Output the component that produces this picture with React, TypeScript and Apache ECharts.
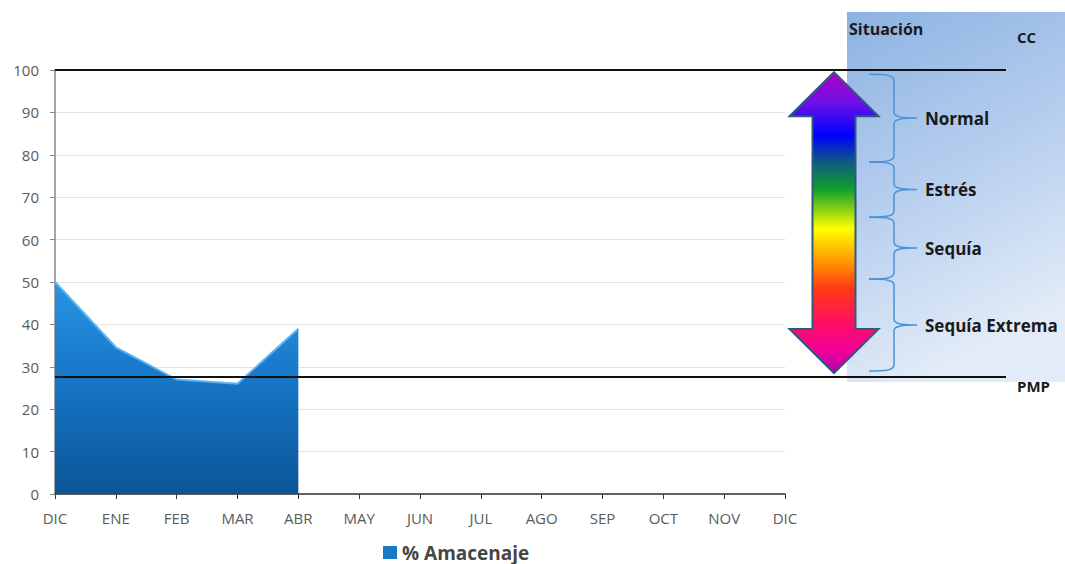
import React, { useEffect, useRef } from "react";
import * as echarts from "echarts";

// Monthly soil-water storage (% of field capacity)
const months = ["DIC", "ENE", "FEB", "MAR", "ABR", "MAY", "JUN", "JUL", "AGO", "SEP", "OCT", "NOV", "DIC"];
const storage = [50, 34.6, 27, 26, 39];
const seriesName = "% Amacenaje";

// Value axis
const yMin = 0;
const yMax = 100;
const yStep = 10;

// Reference levels
const ccLevel = 100; // capacidad de campo
const pmpLevel = 27.6; // punto de marchitez permanente

// Situation bands along the scale (upper/lower bounds in %)
const situationLabels = ["Normal", "Estrés", "Sequía", "Sequía Extrema"];
const situationBounds = [99, 78.3, 65.3, 50.7, 29];

const FONT = "'Open Sans', Lato, sans-serif";

function bracePath(y0: number, y1: number): string {
  const xl = 869;
  const xs = 894;
  const xt = 917;
  const ym = (y0 + y1) / 2;
  const r = 6;
  return (
    `M${xl} ${y0} C${xs - 8} ${y0} ${xs} ${y0 + 1} ${xs} ${y0 + r} ` +
    `L${xs} ${ym - r} C${xs} ${ym - 2} ${xs + 4} ${ym} ${xt} ${ym} ` +
    `C${xs + 4} ${ym} ${xs} ${ym + 2} ${xs} ${ym + r} ` +
    `L${xs} ${y1 - r} C${xs} ${y1 - 1} ${xs - 8} ${y1} ${xl} ${y1}`
  );
}

export default function App() {
  const ref = useRef<HTMLDivElement>(null);

  useEffect(() => {
    if (!ref.current) return;
    const chart = echarts.init(ref.current, undefined, { renderer: "svg" });

    chart.setOption({
      animation: false,
      backgroundColor: "#ffffff",
      grid: { left: 55, right: 280, top: 70, bottom: 70, containLabel: false },
      legend: {
        data: [seriesName],
        left: 378,
        top: 538,
        icon: "rect",
        itemWidth: 14,
        itemHeight: 13,
        itemGap: 6,
        textStyle: { fontSize: 19, fontWeight: "bold", color: "#454545", fontFamily: FONT },
      },
      xAxis: {
        type: "category",
        data: months,
        boundaryGap: false,
        axisLine: { lineStyle: { color: "#333333", width: 1.5 } },
        axisTick: { show: true, length: 5, lineStyle: { color: "#333333" } },
        axisLabel: { fontSize: 15, color: "#5a5a5a", margin: 16, fontFamily: FONT },
        splitLine: { show: false },
      },
      yAxis: {
        type: "value",
        min: yMin,
        max: yMax,
        interval: yStep,
        axisLine: { show: true, lineStyle: { color: "#868686", width: 1.5 } },
        axisTick: { show: true, length: 5, lineStyle: { color: "#868686" } },
        axisLabel: { fontSize: 15, color: "#5a5a5a", margin: 16, fontFamily: FONT },
        splitLine: { lineStyle: { color: "#e2e2e2", width: 1 } },
      },
      series: [
        {
          name: seriesName,
          type: "line",
          data: storage,
          symbol: "none",
          color: "#1a78c8",
          lineStyle: { color: "#5bb2f0", width: 2 },
          areaStyle: {
            opacity: 1,
            color: {
              type: "linear",
              x: 0,
              y: 0,
              x2: 0,
              y2: 1,
              colorStops: [
                { offset: 0, color: "#2a93e4" },
                { offset: 0.5, color: "#1574c4" },
                { offset: 1, color: "#0b5596" },
              ],
            },
          },
          z: 2,
        },
      ],
    });

    const px = (v: number) => chart.convertToPixel({ yAxisIndex: 0 }, v) as number;
    const xLeft = chart.convertToPixel({ xAxisIndex: 0 }, 0) as number;
    const yCC = px(ccLevel);
    const yPMP = px(pmpLevel);
    const yTop = px(situationBounds[0]) - 2;
    const yBot = px(situationBounds[situationBounds.length - 1]) + 2;

    // Double-headed colour arrow
    const ax = 834;
    const headHalf = 44.5;
    const shaftHalf = 21.5;
    const headLen = 44;
    const arrowPts = [
      [ax, yTop],
      [ax + headHalf, yTop + headLen],
      [ax + shaftHalf, yTop + headLen],
      [ax + shaftHalf, yBot - headLen],
      [ax + headHalf, yBot - headLen],
      [ax, yBot],
      [ax - headHalf, yBot - headLen],
      [ax - shaftHalf, yBot - headLen],
      [ax - shaftHalf, yTop + headLen],
      [ax - headHalf, yTop + headLen],
    ];

    const braces: any[] = [];
    const labels: any[] = [];
    for (let i = 0; i < situationLabels.length; i++) {
      const y0 = px(situationBounds[i]);
      const y1 = px(situationBounds[i + 1]);
      const name = `brace${i}`;
      echarts.graphic.registerShape(name, echarts.graphic.extendPath(bracePath(y0, y1), {}));
      braces.push({
        type: name,
        x: 0,
        y: 0,
        z: 20,
        style: { stroke: "#4a93d6", fill: "none", lineWidth: 1.5 },
      });
      labels.push({
        type: "text",
        x: 925,
        y: (y0 + y1) / 2,
        z: 21,
        style: {
          text: situationLabels[i],
          fill: "#1a1a1a",
          font: `bold 17px ${FONT}`,
          textAlign: "left",
          textVerticalAlign: "middle",
        },
      });
    }

    chart.setOption({
      graphic: [
        {
          type: "rect",
          z: 0,
          shape: { x: 847, y: 12, width: 218, height: 370 },
          style: {
            fill: {
              type: "linear",
              x: 0,
              y: 0,
              x2: 0.3,
              y2: 1,
              colorStops: [
                { offset: 0, color: "#8cb2e2" },
                { offset: 0.5, color: "#b4cdee" },
                { offset: 1, color: "#e2ebf7" },
              ],
            },
          },
        },
        {
          type: "line",
          z: 10,
          shape: { x1: xLeft, y1: yCC, x2: 1006, y2: yCC },
          style: { stroke: "#111111", lineWidth: 2 },
        },
        {
          type: "line",
          z: 10,
          shape: { x1: xLeft, y1: yPMP, x2: 1006, y2: yPMP },
          style: { stroke: "#111111", lineWidth: 2 },
        },
        {
          type: "polygon",
          z: 15,
          shape: { points: arrowPts },
          style: {
            stroke: "#2c5b7e",
            lineWidth: 2,
            fill: {
              type: "linear",
              x: 0,
              y: 0,
              x2: 0,
              y2: 1,
              colorStops: [
                { offset: 0, color: "#b000c0" },
                { offset: 0.1, color: "#7010e8" },
                { offset: 0.21, color: "#0000ff" },
                { offset: 0.3, color: "#0e5c80" },
                { offset: 0.39, color: "#10a02a" },
                { offset: 0.52, color: "#ffff00" },
                { offset: 0.62, color: "#ffa000" },
                { offset: 0.72, color: "#ff3a14" },
                { offset: 0.83, color: "#ff1060" },
                { offset: 0.93, color: "#f0009a" },
                { offset: 1, color: "#b000b0" },
              ],
            },
          },
        },
        ...braces,
        ...labels,
        {
          type: "text",
          x: 849,
          y: 29,
          z: 21,
          style: {
            text: "Situación",
            fill: "#1a1a1a",
            font: `bold 16px ${FONT}`,
            textAlign: "left",
            textVerticalAlign: "middle",
          },
        },
        {
          type: "text",
          x: 1017,
          y: 37,
          z: 21,
          style: {
            text: "CC",
            fill: "#1a1a1a",
            font: `bold 15px ${FONT}`,
            textAlign: "left",
            textVerticalAlign: "middle",
          },
        },
        {
          type: "text",
          x: 1017,
          y: 386,
          z: 21,
          style: {
            text: "PMP",
            fill: "#1a1a1a",
            font: `bold 15px ${FONT}`,
            textAlign: "left",
            textVerticalAlign: "middle",
          },
        },
      ],
    });

    return () => chart.dispose();
  }, []);

  return (
    <div
      ref={ref}
      style={{ position: "fixed", left: 0, top: 0, width: 1065, height: 564 }}
    />
  );
}
